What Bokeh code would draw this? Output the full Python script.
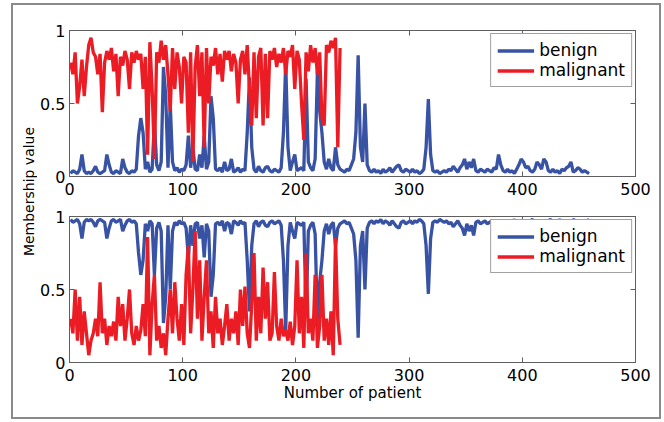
from bokeh.plotting import figure
from bokeh.models import Range1d, LinearAxis, FixedTicker, Legend, LegendItem, Label
from bokeh.layouts import column, row
from bokeh.embed import file_html
from bokeh.resources import INLINE

# ---------------- data ----------------
benign_x = list(range(1, 460, 2))
malignant_x = list(range(1, 240, 2))

benign_top = [
    0.02, 0.04, 0.03, 0.02, 0.05, 0.15, 0.04, 0.02, 0.03, 0.02,
    0.04, 0.07, 0.03, 0.02, 0.03, 0.04, 0.15, 0.08, 0.03, 0.02,
    0.04, 0.03, 0.02, 0.12, 0.06, 0.03, 0.02, 0.04, 0.03, 0.05,
    0.28, 0.40, 0.30, 0.05, 0.10, 0.03, 0.05, 0.38, 0.08, 0.04,
    0.10, 0.75, 0.55, 0.06, 0.50, 0.10, 0.04, 0.06, 0.03, 0.05,
    0.04, 0.08, 0.28, 0.06, 0.20, 0.05, 0.04, 0.15, 0.06, 0.28,
    0.05, 0.10, 0.55, 0.40, 0.05, 0.04, 0.06, 0.03, 0.10, 0.04,
    0.05, 0.12, 0.03, 0.04, 0.06, 0.03, 0.05, 0.04, 0.30, 0.68,
    0.20, 0.05, 0.03, 0.07, 0.04, 0.03, 0.06, 0.07, 0.04, 0.03,
    0.05, 0.04, 0.03, 0.06, 0.30, 0.78, 0.20, 0.04, 0.10, 0.15,
    0.04, 0.05, 0.06, 0.04, 0.67, 0.10, 0.06, 0.04, 0.12, 0.72,
    0.45, 0.30, 0.10, 0.05, 0.12, 0.06, 0.04, 0.20, 0.08, 0.05,
    0.04, 0.03, 0.05, 0.04, 0.08, 0.12, 0.30, 0.83, 0.20, 0.10,
    0.50, 0.08, 0.04, 0.03, 0.05, 0.03, 0.04, 0.02, 0.05, 0.03,
    0.04, 0.06, 0.03, 0.05, 0.07, 0.08, 0.04, 0.03, 0.05, 0.04,
    0.03, 0.05, 0.03, 0.04, 0.02, 0.03, 0.05, 0.20, 0.53, 0.15,
    0.04, 0.03, 0.04, 0.02, 0.03, 0.04, 0.03, 0.05, 0.04, 0.07,
    0.05, 0.03, 0.06, 0.08, 0.12, 0.05, 0.10, 0.06, 0.12, 0.04,
    0.03, 0.05, 0.04, 0.03, 0.05, 0.04, 0.03, 0.06, 0.05, 0.15,
    0.08, 0.04, 0.03, 0.05, 0.03, 0.04, 0.02, 0.05, 0.08, 0.12,
    0.10, 0.06, 0.07, 0.04, 0.03, 0.05, 0.10, 0.08, 0.05, 0.12,
    0.10, 0.04, 0.03, 0.05, 0.03, 0.04, 0.02, 0.05, 0.04, 0.06,
    0.07, 0.10, 0.03, 0.04, 0.06, 0.05, 0.03, 0.04, 0.03, 0.02,
]

malignant_top = [
    0.78, 0.70, 0.85, 0.50, 0.62, 0.80, 0.55, 0.75, 0.90, 0.95,
    0.85, 0.82, 0.70, 0.84, 0.44, 0.78, 0.86, 0.80, 0.88, 0.72,
    0.84, 0.55, 0.82, 0.76, 0.86, 0.80, 0.60, 0.85, 0.78, 0.86,
    0.80, 0.84, 0.60, 0.82, 0.15, 0.92, 0.60, 0.12, 0.85, 0.78,
    0.93, 0.80, 0.90, 0.70, 0.45, 0.88, 0.60, 0.85, 0.75, 0.50,
    0.82, 0.78, 0.30, 0.85, 0.10, 0.75, 0.90, 0.55, 0.85, 0.20,
    0.88, 0.50, 0.82, 0.76, 0.88, 0.70, 0.84, 0.65, 0.86, 0.80,
    0.86, 0.72, 0.84, 0.78, 0.50, 0.80, 0.86, 0.70, 0.90, 0.60,
    0.35, 0.85, 0.40, 0.82, 0.88, 0.35, 0.84, 0.40, 0.86, 0.80,
    0.88, 0.75, 0.84, 0.78, 0.88, 0.70, 0.86, 0.82, 0.90, 0.60,
    0.86, 0.80, 0.50, 0.25, 0.85, 0.72, 0.90, 0.78, 0.88, 0.70,
    0.85, 0.40, 0.35, 0.90, 0.85, 0.93, 0.88, 0.95, 0.20, 0.88,
]

benign_bottom = [
    0.98, 0.96, 0.97, 0.98, 0.95, 0.85, 0.96, 0.98, 0.97, 0.98,
    0.96, 0.93, 0.97, 0.98, 0.97, 0.96, 0.85, 0.92, 0.97, 0.98,
    0.96, 0.97, 0.98, 0.90, 0.94, 0.97, 0.98, 0.96, 0.97, 0.95,
    0.75, 0.60, 0.70, 0.95, 0.90, 0.97, 0.95, 0.60, 0.92, 0.96,
    0.90, 0.27, 0.45, 0.94, 0.50, 0.90, 0.96, 0.94, 0.97, 0.95,
    0.96, 0.92, 0.72, 0.94, 0.80, 0.95, 0.96, 0.85, 0.94, 0.72,
    0.95, 0.90, 0.45, 0.60, 0.95, 0.96, 0.94, 0.97, 0.90, 0.96,
    0.95, 0.88, 0.97, 0.96, 0.94, 0.97, 0.95, 0.96, 0.70, 0.35,
    0.80, 0.95, 0.97, 0.93, 0.96, 0.97, 0.94, 0.93, 0.96, 0.97,
    0.95, 0.96, 0.97, 0.94, 0.70, 0.22, 0.80, 0.96, 0.90, 0.85,
    0.96, 0.95, 0.94, 0.96, 0.33, 0.90, 0.94, 0.96, 0.88, 0.28,
    0.55, 0.70, 0.90, 0.95, 0.88, 0.94, 0.96, 0.80, 0.92, 0.95,
    0.96, 0.97, 0.95, 0.96, 0.92, 0.88, 0.70, 0.17, 0.80, 0.90,
    0.50, 0.92, 0.96, 0.97, 0.95, 0.97, 0.96, 0.98, 0.95, 0.97,
    0.96, 0.94, 0.97, 0.95, 0.93, 0.92, 0.96, 0.97, 0.95, 0.96,
    0.97, 0.95, 0.97, 0.96, 0.98, 0.97, 0.95, 0.80, 0.47, 0.85,
    0.96, 0.97, 0.96, 0.98, 0.97, 0.96, 0.97, 0.95, 0.96, 0.93,
    0.95, 0.97, 0.94, 0.92, 0.87, 0.95, 0.90, 0.94, 0.87, 0.96,
    0.97, 0.95, 0.96, 0.97, 0.95, 0.96, 0.97, 0.94, 0.95, 0.93,
    0.92, 0.96, 0.97, 0.95, 0.97, 0.96, 0.98, 0.95, 0.94, 0.92,
    0.94, 0.96, 0.95, 0.97, 0.98, 0.96, 0.94, 0.95, 0.97, 0.94,
    0.96, 0.97, 0.98, 0.96, 0.97, 0.96, 0.98, 0.96, 0.97, 0.95,
    0.95, 0.94, 0.98, 0.97, 0.95, 0.96, 0.97, 0.96, 0.97, 0.98,
]

malignant_bottom = [
    0.30, 0.20, 0.50, 0.15, 0.45, 0.12, 0.35, 0.20, 0.05, 0.15,
    0.20, 0.30, 0.18, 0.55, 0.20, 0.30, 0.12, 0.25, 0.18, 0.28,
    0.15, 0.45, 0.25, 0.40, 0.15, 0.30, 0.50, 0.20, 0.12, 0.25,
    0.15, 0.22, 0.40, 0.18, 0.86, 0.05, 0.40, 0.60, 0.15, 0.25,
    0.10, 0.20, 0.05, 0.30, 0.50, 0.20, 0.55, 0.30, 0.15, 0.40,
    0.12, 0.60, 0.80, 0.20, 0.50, 0.90, 0.30, 0.70, 0.15, 0.45,
    0.70, 0.20, 0.35, 0.10, 0.45, 0.20, 0.30, 0.12, 0.25, 0.40,
    0.15, 0.30, 0.20, 0.35, 0.12, 0.50, 0.25, 0.52, 0.20, 0.10,
    0.40, 0.75, 0.15, 0.45, 0.20, 0.65, 0.30, 0.55, 0.15, 0.20,
    0.62, 0.25, 0.15, 0.30, 0.18, 0.22, 0.15, 0.28, 0.12, 0.25,
    0.70, 0.20, 0.45, 0.10, 0.75, 0.20, 0.30, 0.15, 0.60, 0.10,
    0.25, 0.60, 0.15, 0.30, 0.12, 0.35, 0.05, 0.85, 0.30, 0.12,
]

x_ticks = [0, 100, 200, 300, 400, 500]
y_ticks = [0, 0.5, 1]
y_tick_labels = {0: "0", 0.5: "0.5", 1: "1"}
series_names = ["benign", "malignant"]
x_title = "Number of patient"
y_title = "Membership value"

# ---------------- style ----------------
FONT = "DejaVu Sans"
BLUE = "#3953a4"
RED = "#ec1c24"
FRAME = "#5f5f5f"
TICK_FONT = "16px"
LW = 3.3


def style_axis(ax, show_labels=True):
    ax.major_tick_in = 5
    ax.major_tick_out = 0
    ax.minor_tick_in = 0
    ax.minor_tick_out = 0
    ax.axis_line_color = FRAME
    ax.major_tick_line_color = FRAME
    ax.major_label_text_font = FONT
    if show_labels:
        ax.major_label_text_font_size = TICK_FONT
        ax.major_label_text_color = "black"
    else:
        ax.major_label_text_font_size = "1px"
        ax.major_label_text_color = None
        ax.major_label_standoff = 0


def make_panel(height, top_b, bottom_b, benign, malignant, xlabel=None):
    p = figure(width=622, height=height, output_backend="svg", toolbar_location=None,
               x_range=Range1d(0, 500), y_range=Range1d(0, 1),
               min_border_left=28, min_border_right=24,
               min_border_top=top_b, min_border_bottom=bottom_b,
               background_fill_color="white", border_fill_color="white")
    p.xgrid.visible = False
    p.ygrid.visible = False
    p.outline_line_color = FRAME
    p.outline_line_width = 1

    xa = p.below[0]
    ya = p.left[0]
    xa.ticker = FixedTicker(ticks=x_ticks)
    ya.ticker = FixedTicker(ticks=y_ticks)
    ya.major_label_overrides = y_tick_labels
    style_axis(xa)
    style_axis(ya)
    xa.major_label_standoff = 6
    ya.major_label_standoff = 4

    ax_top = LinearAxis(ticker=FixedTicker(ticks=x_ticks))
    style_axis(ax_top, show_labels=False)
    p.add_layout(ax_top, "above")
    ax_right = LinearAxis(ticker=FixedTicker(ticks=y_ticks))
    style_axis(ax_right, show_labels=False)
    p.add_layout(ax_right, "right")

    if xlabel:
        xa.axis_label = xlabel
        xa.axis_label_text_font = FONT
        xa.axis_label_text_font_size = "15px"
        xa.axis_label_text_font_style = "normal"
        xa.axis_label_text_color = "black"
        xa.axis_label_standoff = 0

    rb = p.line(benign_x, benign, line_color=BLUE, line_width=LW)
    rm = p.line(malignant_x, malignant, line_color=RED, line_width=LW)

    legend = Legend(items=[LegendItem(label=series_names[0], renderers=[rb]),
                           LegendItem(label=series_names[1], renderers=[rm])],
                    location="top_right", margin=3, padding=6, spacing=0,
                    glyph_width=37, glyph_height=19, label_height=19,
                    label_standoff=5, label_text_font=FONT,
                    label_text_font_size="17px", label_text_color="black",
                    border_line_color="#444444", border_line_width=1,
                    background_fill_color="white", background_fill_alpha=1)
    p.add_layout(legend)
    return p


top = make_panel(195, 25, 24, benign_top, malignant_top)
bottom = make_panel(217, 16, 55, benign_bottom, malignant_bottom, xlabel=x_title)

lab = figure(width=24, height=412, output_backend="svg", toolbar_location=None,
             x_range=Range1d(0, 1), y_range=Range1d(0, 1),
             min_border=0, outline_line_color=None)
lab.axis.visible = False
lab.grid.visible = False
lab.add_layout(Label(x=15 / 24, y=226 / 412, text=y_title, angle=1.5707963,
                     text_align="center", text_baseline="middle",
                     text_font=FONT, text_font_size="14px", text_color="black"))

layout = row(lab, column(top, bottom),
             styles={"border": "2px solid #8a8a8a", "margin-left": "11px",
                     "margin-top": "3px"})

open("out.html", "w").write(file_html(layout, INLINE))
